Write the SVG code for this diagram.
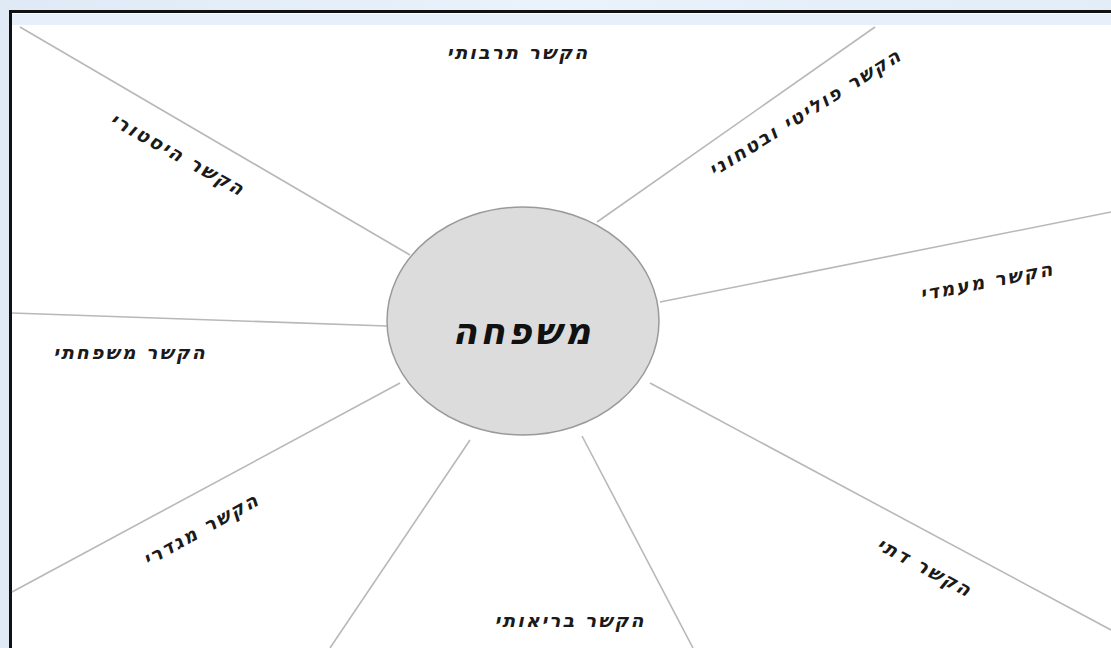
<svg xmlns="http://www.w3.org/2000/svg" width="1111" height="648" viewBox="0 0 1111 648">
<defs>
<linearGradient id="bg" x1="0" y1="0" x2="1" y2="0">
<stop offset="0" stop-color="#dfeaf6"/>
<stop offset="0.5" stop-color="#eaf2fb"/>
<stop offset="1" stop-color="#e2edf8"/>
</linearGradient>
<style>
.spoke{stroke:#b8b8b8;stroke-width:1.6;fill:none}
.lbl{font-family:"DejaVu Sans","Liberation Sans",sans-serif;font-size:19px;letter-spacing:2px;font-style:italic;font-weight:bold;fill:#1a1a1a;text-anchor:middle;dominant-baseline:central}
.center{font-family:"DejaVu Sans","Liberation Sans",sans-serif;font-size:36px;letter-spacing:3px;font-style:italic;font-weight:bold;fill:#111;text-anchor:middle;dominant-baseline:central}
</style>
</defs>
<rect x="0" y="0" width="1111" height="648" fill="url(#bg)"/>
<rect x="11" y="13" width="1100" height="635" fill="#ffffff"/>
<rect x="12" y="14" width="1099" height="11" fill="#e6effa"/>
<path d="M10.5 648 V11.5 H1111" fill="none" stroke="#111" stroke-width="3"/>
<g id="connectors">
<line class="spoke" x1="20" y1="27" x2="410" y2="255"/>
<line class="spoke" x1="875" y1="27" x2="597" y2="222"/>
<line class="spoke" x1="1111" y1="212" x2="660" y2="302"/>
<line class="spoke" x1="12" y1="313" x2="387" y2="326"/>
<line class="spoke" x1="12" y1="592" x2="400" y2="383"/>
<line class="spoke" x1="330" y1="648" x2="470" y2="440"/>
<line class="spoke" x1="693" y1="648" x2="582" y2="436"/>
<line class="spoke" x1="1111" y1="630" x2="650" y2="383"/>
</g>
<g id="node-center">
<ellipse cx="523" cy="321" rx="136" ry="114" fill="#dcdcdc" stroke="#9a9a9a" stroke-width="1.5"/>
<text class="center" x="523" y="331">משפחה</text>
</g>
<g id="node-cultural"><text class="lbl" x="518" y="52">הקשר תרבותי</text></g>
<g id="node-historical"><text class="lbl" transform="translate(178,154) rotate(29)">הקשר היסטורי</text></g>
<g id="node-political"><text class="lbl" transform="translate(805,112) rotate(-32)">הקשר פוליטי ובטחוני</text></g>
<g id="node-class"><text class="lbl" transform="translate(987,281) rotate(-11)">הקשר מעמדי</text></g>
<g id="node-family"><text class="lbl" x="130" y="352">הקשר משפחתי</text></g>
<g id="node-gender"><text class="lbl" transform="translate(201,529) rotate(-29)">הקשר מגדרי</text></g>
<g id="node-health"><text class="lbl" x="570" y="620">הקשר בריאותי</text></g>
<g id="node-religious"><text class="lbl" transform="translate(925,567) rotate(28)">הקשר דתי</text></g>
</svg>
